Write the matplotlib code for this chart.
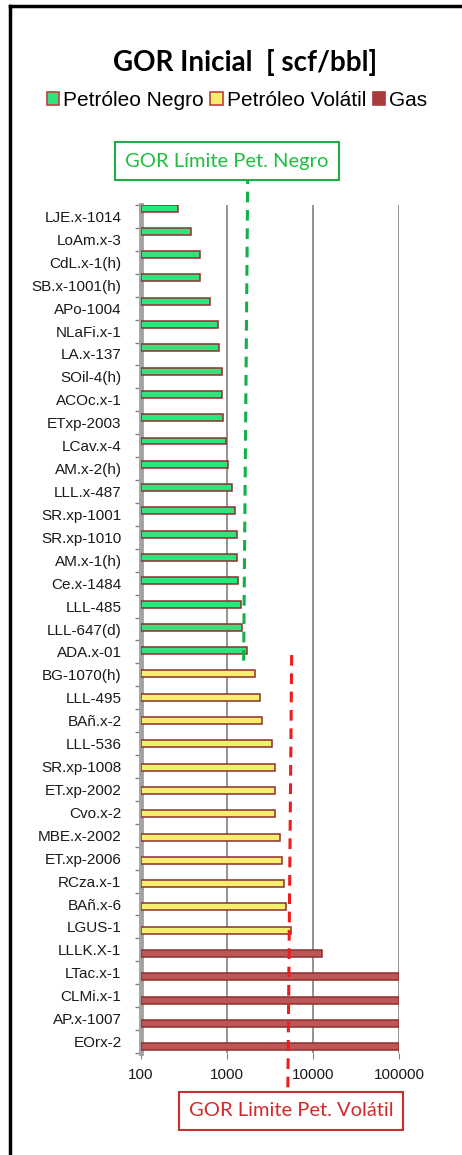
import numpy as np
import matplotlib
matplotlib.use('Agg')
import matplotlib.pyplot as plt
from matplotlib.patches import Patch
from matplotlib.lines import Line2D
from matplotlib.transforms import blended_transform_factory

# pozos y GOR inicial [scf/bbl]
POZOS_NEGRO = ['LJE.x-1014', 'LoAm.x-3', 'CdL.x-1(h)', 'SB.x-1001(h)', 'APo-1004',
               'NLaFi.x-1', 'LA.x-137', 'SOil-4(h)', 'ACOc.x-1', 'ETxp-2003',
               'LCav.x-4', 'AM.x-2(h)', 'LLL.x-487', 'SR.xp-1001', 'SR.xp-1010',
               'AM.x-1(h)', 'Ce.x-1484', 'LLL-485', 'LLL-647(d)', 'ADA.x-01']
GOR_NEGRO = [270, 385, 480, 490, 630, 795, 815, 880, 880, 910,
             980, 1040, 1150, 1230, 1290, 1320, 1360, 1440, 1510, 1690]

POZOS_VOLATIL = ['BG-1070(h)', 'LLL-495', 'BAñ.x-2', 'LLL-536', 'SR.xp-1008',
                 'ET.xp-2002', 'Cvo.x-2', 'MBE.x-2002', 'ET.xp-2006', 'RCza.x-1',
                 'BAñ.x-6', 'LGUS-1']
GOR_VOLATIL = [2100, 2400, 2580, 3380, 3600, 3600, 3650, 4150, 4350, 4600, 4800, 5600]

POZOS_GAS = ['LLLK.X-1', 'LTac.x-1', 'CLMi.x-1', 'AP.x-1007', 'EOrx-2']
GOR_GAS = [12700, 100000, 100000, 100000, 100000]

X_TICKS = [100, 1000, 10000, 100000]

# limites de GOR
GOR_LIM_NEGRO = (1750, 1560)
GOR_LIM_VOLATIL = (5650, 5100)

C_NEGRO = '#2ee47c'
C_VOLATIL = '#f6ef6e'
C_GAS = '#bd5656'
C_EDGE = '#8e2f2f'

W, H = 462, 1155


def fy(px):
    """pixel desde arriba -> fraccion de figura"""
    return 1 - px / H


def fx(px):
    return px / W


pozos = POZOS_NEGRO + POZOS_VOLATIL + POZOS_GAS
gor = np.array(GOR_NEGRO + GOR_VOLATIL + GOR_GAS, dtype=float)
colores = [C_NEGRO] * len(GOR_NEGRO) + [C_VOLATIL] * len(GOR_VOLATIL) + [C_GAS] * len(GOR_GAS)
n = len(pozos)
idx = np.arange(n)

fig = plt.figure(figsize=(W / 100, H / 100), dpi=100)
fig.patch.set_facecolor('white')

ax_top, ax_bot = 205, 1053
ax = fig.add_axes([fx(141), fy(ax_bot), fx(399) - fx(141), (ax_bot - ax_top) / H])
ax.set_xscale('log')
ax.set_xlim(100, 100000)
ax.set_ylim(n - 0.5, -0.5)
ax.set_yticks(idx)
ax.set_yticklabels(pozos, family='Liberation Sans', fontsize=11, color='#1a1a1a')
ax.set_yticks(np.arange(-0.5, n), minor=True)
ax.tick_params(axis='y', which='major', length=0, pad=14)
ax.tick_params(axis='y', which='minor', length=4, color='#808080', width=1)
ax.set_xticks(X_TICKS)
ax.set_xticklabels([str(t) for t in X_TICKS], family='Liberation Sans', fontsize=11, color='#1a1a1a')
ax.xaxis.set_minor_locator(matplotlib.ticker.NullLocator())
ax.tick_params(axis='x', length=4, color='#808080', pad=7)
for s in ['top', 'right', 'bottom']:
    ax.spines[s].set_visible(False)
ax.spines['left'].set_color('#a3a3a3')
ax.spines['left'].set_linewidth(3.5)
ax.grid(axis='x', color='#8a8a8a', lw=1.3)
ax.set_axisbelow(True)

# barras sobre el plano del fondo (efecto 3D desplazado)
ax_b = ax.twinx()
ax_b.set_ylim(n - 0.73, -0.13)
ax_b.axis('off')
ax_b.barh(idx, gor - 100, left=100, height=0.3, color=colores,
          edgecolor=C_EDGE, linewidth=1.1)

# lineas limite (discontinuas)
tr = blended_transform_factory(ax_b.transData, fig.transFigure)
ax_b.plot(GOR_LIM_NEGRO, [fy(155), fy(663)], transform=tr, color='#13b04a',
          lw=2.2, ls=(0, (3.5, 2.5)), clip_on=False)
ax_b.plot(GOR_LIM_VOLATIL, [fy(655), fy(1090)], transform=tr, color='#ee1c1c',
          lw=2.2, ls=(0, (3.5, 2.5)), clip_on=False)

# titulo y leyenda
fig.text(fx(245), fy(62), 'GOR Inicial  [ scf/bbl]', ha='center', va='center',
         fontsize=20, fontweight='bold', family='Lato')
handles = [Patch(facecolor=C_NEGRO, edgecolor='#c04040', lw=1.2, label='Petróleo Negro'),
           Patch(facecolor=C_VOLATIL, edgecolor='#c04040', lw=1.2, label='Petróleo Volátil'),
           Patch(facecolor='#a83c3c', edgecolor='#a83c3c', lw=1.2, label='Gas')]
fig.legend(handles=handles, loc='center', bbox_to_anchor=(fx(237), fy(100)), ncol=3,
           frameon=False, prop={'family': 'Liberation Sans', 'size': 15},
           handlelength=0.6, handleheight=0.6, handletextpad=0.2, columnspacing=0.3,
           borderpad=0)

# cuadros de texto
fig.text(fx(227), fy(161), 'GOR Límite Pet. Negro', ha='center', va='center',
         fontsize=14.5, family='Lato', color='#1fbf3f',
         bbox=dict(boxstyle='square,pad=0.5', fc='white', ec='#1fae45', lw=1.5))
fig.text(fx(291), fy(1111), 'GOR Limite Pet. Volátil', ha='center', va='center',
         fontsize=14.5, family='Lato', color='#d22a2a',
         bbox=dict(boxstyle='square,pad=0.5', fc='white', ec='#c83030', lw=1.5))

# marco
fig.add_artist(Line2D([fx(10), fx(10)], [fy(6), 0], color='black', lw=2.5))
fig.add_artist(Line2D([fx(10), 1], [fy(6), fy(6)], color='black', lw=2.5))

fig.savefig('out.png', dpi=100)
